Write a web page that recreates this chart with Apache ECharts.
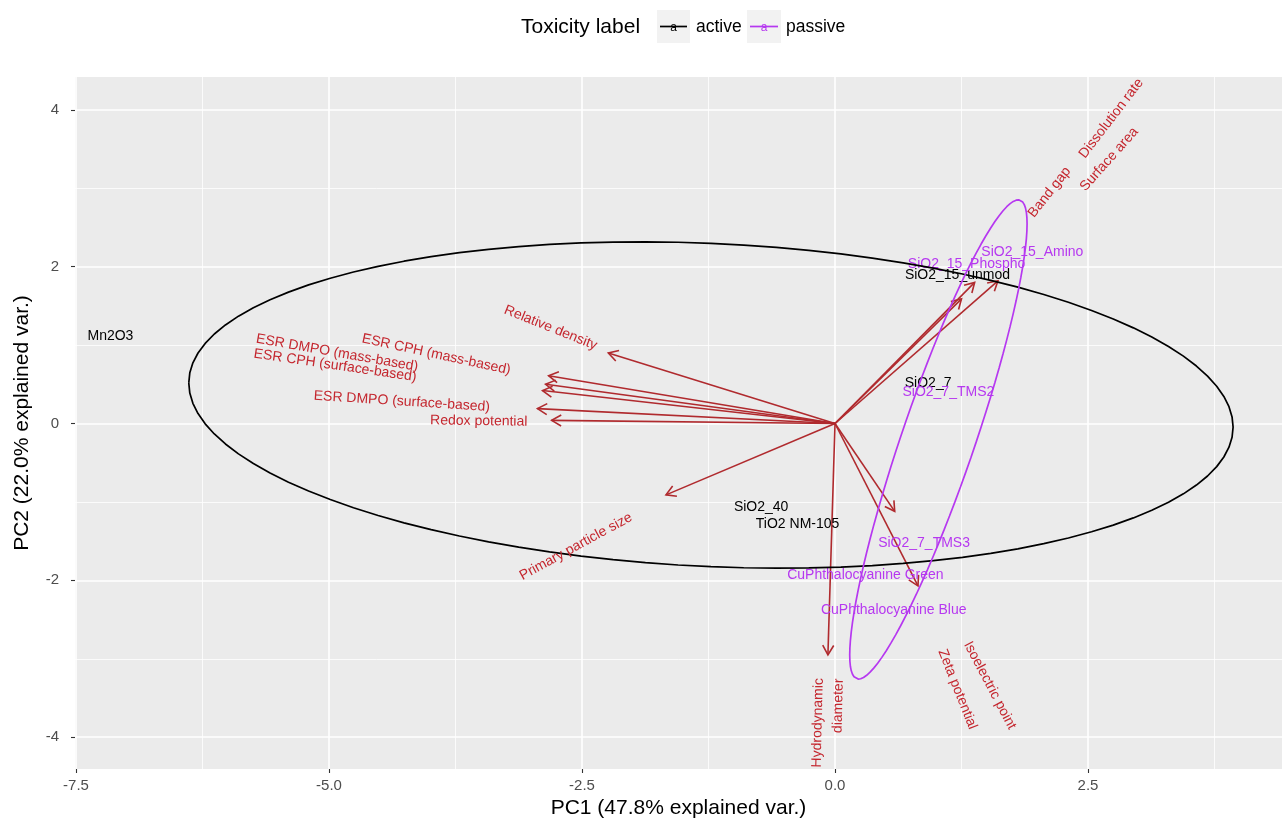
<!DOCTYPE html>
<html>
<head>
<meta charset="utf-8">
<script src="https://cdn.jsdelivr.net/npm/echarts@6/dist/echarts.min.js"></script>
<style>
html,body{margin:0;padding:0;background:#ffffff;}
#chart{width:1282px;height:824px;}
</style>
</head>
<body>
<div id="chart"></div>
<script>
// ---------- data (PC scores of the observations) ----------
const obsNames = ['Mn2O3','SiO2_15_unmod','SiO2_7','SiO2_40','TiO2 NM-105',
                  'SiO2_15_Phospho','SiO2_15_Amino','SiO2_7_TMS2','SiO2_7_TMS3',
                  'CuPhthalocyanine Green','CuPhthalocyanine Blue'];
const obsPC1 = [-7.16, 1.21, 0.92, -0.73, -0.37, 1.30, 1.95, 1.12, 0.88, 0.30, 0.58];
const obsPC2 = [ 1.12, 1.89, 0.52, -1.07, -1.28, 2.03, 2.18, 0.40, -1.52, -1.93, -2.38];
const obsGroup = ['active','active','active','active','active',
                  'passive','passive','passive','passive','passive','passive'];
const groupNames = ['active','passive'];

// ---------- data (variable loadings / arrow tips) ----------
const varNames = ['Relative density','ESR CPH (mass-based)','ESR DMPO (mass-based)',
                  'ESR CPH (surface-based)','ESR DMPO (surface-based)','Redox potential',
                  'Primary particle size','Hydrodynamic\ndiameter','Zeta potential',
                  'Isoelectric point','Band gap','Dissolution rate','Surface area'];
const varPC1 = [-2.24, -2.83, -2.86, -2.89, -2.94, -2.80, -1.67, -0.07, 0.82, 0.59, 1.25, 1.38, 1.61];
const varPC2 = [ 0.90,  0.61,  0.50,  0.42,  0.19,  0.04, -0.91, -2.95, -2.07, -1.12, 1.59, 1.80, 1.82];

// ---------- tick values ----------
const xTicks = [-7.5, -5.0, -2.5, 0.0, 2.5];
const xMinorTicks = [-6.25, -3.75, -1.25, 1.25, 3.75];
const yTicks = [-4, -2, 0, 2, 4];
const yMinorTicks = [-3, -1, 1, 3];

// ---------- layout (label anchors in data units, not data) ----------
const varLabelAnchorX = [-2.81, -3.94, -4.92, -4.94, -4.28, -3.52, -2.56, -0.06, 1.21, 1.53, 2.12, 2.73, 2.71];
const varLabelAnchorY = [ 1.22,  0.88,  0.90,  0.74,  0.28,  0.03, -1.57, -3.25, -3.39, -3.34, 2.95, 3.89, 3.37];
const varLabelAlign = ['center','center','center','center','center','center','center',
                       'right','center','center','center','center','center'];

const X_MIN = -7.51, X_MAX = 4.417, Y_MIN = -4.406, Y_MAX = 4.419;
const FONT = '"Liberation Sans", Arial, Helvetica, sans-serif';
const groupColor = {active:'#000000', passive:'#B638F0'};
const arrowColor = '#B02A2E';
const varTextColor = '#C4262E';

// ---------- normal-data ellipse (as ggbiplot: 68% probability) ----------
function ellipseFor(group) {
  const xs = [], ys = [];
  obsGroup.forEach((g, i) => { if (g === group) { xs.push(obsPC1[i]); ys.push(obsPC2[i]); } });
  const n = xs.length;
  const mx = xs.reduce((a, b) => a + b, 0) / n;
  const my = ys.reduce((a, b) => a + b, 0) / n;
  let sxx = 0, syy = 0, sxy = 0;
  for (let i = 0; i < n; i++) {
    sxx += (xs[i] - mx) * (xs[i] - mx);
    syy += (ys[i] - my) * (ys[i] - my);
    sxy += (xs[i] - mx) * (ys[i] - my);
  }
  sxx /= (n - 1); syy /= (n - 1); sxy /= (n - 1);
  const r11 = Math.sqrt(sxx), r12 = sxy / r11, r22 = Math.sqrt(syy - r12 * r12);
  const ed = Math.sqrt(-2 * Math.log(1 - 0.68));
  const pts = [];
  const N = 100;
  for (let k = 0; k <= N; k++) {
    const t = -Math.PI + 2 * Math.PI * k / N;
    const c = Math.cos(t), s = Math.sin(t);
    pts.push([mx + ed * c * r11, my + ed * (c * r12 + s * r22)]);
  }
  return pts;
}

const chart = echarts.init(document.getElementById('chart'), null, {renderer: 'canvas'});

function arrowItem(params, api) {
  const o = api.coord([0, 0]);
  const t = api.coord([api.value(0), api.value(1)]);
  const ang = Math.atan2(t[1] - o[1], t[0] - o[0]);
  const L = 11, a = Math.PI / 6;
  const p1 = [t[0] - L * Math.cos(ang - a), t[1] - L * Math.sin(ang - a)];
  const p2 = [t[0] - L * Math.cos(ang + a), t[1] - L * Math.sin(ang + a)];
  return {
    type: 'group',
    children: [
      {type: 'line', shape: {x1: o[0], y1: o[1], x2: t[0], y2: t[1]},
       style: {stroke: arrowColor, lineWidth: 1.6}},
      {type: 'polyline', shape: {points: [p1, t, p2]},
       style: {stroke: arrowColor, lineWidth: 1.6, fill: null}}
    ]
  };
}

function varLabelItem(params, api) {
  const i = api.value(4);
  const p = api.coord([api.value(0), api.value(1)]);
  const angle = Math.atan(api.value(3) / api.value(2));
  return {
    type: 'text',
    x: p[0], y: p[1],
    rotation: angle,
    style: {
      text: varNames[i],
      fill: varTextColor,
      font: '14px ' + FONT,
      align: varLabelAlign[i],
      verticalAlign: 'middle',
      lineHeight: 20
    }
  };
}

function obsLabelItemFactory(color) {
  return function (params, api) {
    const p = api.coord([api.value(0), api.value(1)]);
    return {
      type: 'text', x: p[0], y: p[1],
      style: {text: obsNames[api.value(2)], fill: color, font: '14px ' + FONT,
              align: 'center', verticalAlign: 'middle'}
    };
  };
}

const arrowData = varPC1.map((x, i) => [x, varPC2[i]]);
const varLabelData = varNames.map((n, i) => [varLabelAnchorX[i], varLabelAnchorY[i], varPC1[i], varPC2[i], i]);

const series = [];
series.push({
  type: 'custom', name: 'loadings', renderItem: arrowItem, data: arrowData,
  encode: {x: 0, y: 1}, clip: false, z: 2, silent: true
});
groupNames.forEach(g => {
  const d = [];
  obsGroup.forEach((gg, i) => { if (gg === g) d.push([obsPC1[i], obsPC2[i], i]); });
  series.push({
    type: 'custom', name: g, renderItem: obsLabelItemFactory(groupColor[g]), data: d,
    encode: {x: 0, y: 1}, clip: false, z: 3, silent: true
  });
});
groupNames.forEach(g => {
  series.push({
    type: 'line', name: g + ' ellipse', data: ellipseFor(g), showSymbol: false, symbol: 'none',
    lineStyle: {color: groupColor[g], width: 1.7}, z: 4, silent: true, smooth: false
  });
});
series.push({
  type: 'custom', name: 'variables', renderItem: varLabelItem, data: varLabelData,
  encode: {x: 0, y: 1}, clip: false, z: 5, silent: true
});

const option = {
  animation: false,
  backgroundColor: '#ffffff',
  textStyle: {fontFamily: FONT},
  grid: {left: 75, right: 0, top: 77, bottom: 52, show: true,
         backgroundColor: '#EBEBEB', borderWidth: 0, containLabel: false},
  xAxis: [
    {
      type: 'value', min: X_MIN, max: X_MAX, position: 'bottom',
      axisLine: {show: false, onZero: false},
      axisTick: {show: true, customValues: xTicks, length: 4, lineStyle: {color: '#333333', width: 1.1}},
      axisLabel: {show: true, customValues: xTicks, formatter: v => Number(v).toFixed(1),
                  color: '#4D4D4D', fontSize: 15, margin: 9, fontFamily: FONT},
      splitLine: {show: true, lineStyle: {color: '#FFFFFF', width: 1.6}},
      name: 'PC1 (47.8% explained var.)', nameLocation: 'middle', nameGap: 29,
      nameTextStyle: {fontSize: 21, color: '#000000', fontFamily: FONT}
    },
    {
      type: 'value', min: X_MIN, max: X_MAX, position: 'bottom',
      axisLine: {show: false, onZero: false},
      axisTick: {show: false, customValues: xMinorTicks},
      axisLabel: {show: false, customValues: xMinorTicks},
      splitLine: {show: true, lineStyle: {color: '#FFFFFF', width: 0.8}}
    }
  ],
  yAxis: [
    {
      type: 'value', min: Y_MIN, max: Y_MAX, position: 'left',
      axisLine: {show: false, onZero: false},
      axisTick: {show: true, customValues: yTicks, length: 4, lineStyle: {color: '#333333', width: 1.1}},
      axisLabel: {show: true, customValues: yTicks, formatter: v => String(Math.round(v)),
                  color: '#4D4D4D', fontSize: 15, margin: 16, fontFamily: FONT},
      splitLine: {show: true, lineStyle: {color: '#FFFFFF', width: 1.6}},
      name: 'PC2 (22.0% explained var.)', nameLocation: 'middle', nameGap: 42,
      nameRotate: 90,
      nameTextStyle: {fontSize: 21, color: '#000000', fontFamily: FONT}
    },
    {
      type: 'value', min: Y_MIN, max: Y_MAX, position: 'left',
      axisLine: {show: false, onZero: false},
      axisTick: {show: false, customValues: yMinorTicks},
      axisLabel: {show: false, customValues: yMinorTicks},
      splitLine: {show: true, lineStyle: {color: '#FFFFFF', width: 0.8}}
    }
  ],
  graphic: [
    {type: 'text', x: 521, y: 27, style: {text: 'Toxicity label', font: '21px ' + FONT, fill: '#000', verticalAlign: 'middle'}},
    {type: 'rect', shape: {x: 657, y: 10, width: 33, height: 33}, style: {fill: '#F2F2F2'}},
    {type: 'line', shape: {x1: 660, y1: 26.5, x2: 687, y2: 26.5}, style: {stroke: groupColor.active, lineWidth: 1.7}},
    {type: 'text', x: 673.5, y: 28, style: {text: 'a', font: '12px ' + FONT, fill: groupColor.active, align: 'center', verticalAlign: 'middle'}},
    {type: 'text', x: 696, y: 27, style: {text: 'active', font: '17.5px ' + FONT, fill: '#000', verticalAlign: 'middle'}},
    {type: 'rect', shape: {x: 747, y: 10, width: 34, height: 33}, style: {fill: '#F2F2F2'}},
    {type: 'line', shape: {x1: 750, y1: 26.5, x2: 778, y2: 26.5}, style: {stroke: groupColor.passive, lineWidth: 1.7}},
    {type: 'text', x: 764, y: 28, style: {text: 'a', font: '12px ' + FONT, fill: groupColor.passive, align: 'center', verticalAlign: 'middle'}},
    {type: 'text', x: 786, y: 27, style: {text: 'passive', font: '17.5px ' + FONT, fill: '#000', verticalAlign: 'middle'}}
  ],
  series: series
};
chart.setOption(option);
</script>
</body>
</html>
